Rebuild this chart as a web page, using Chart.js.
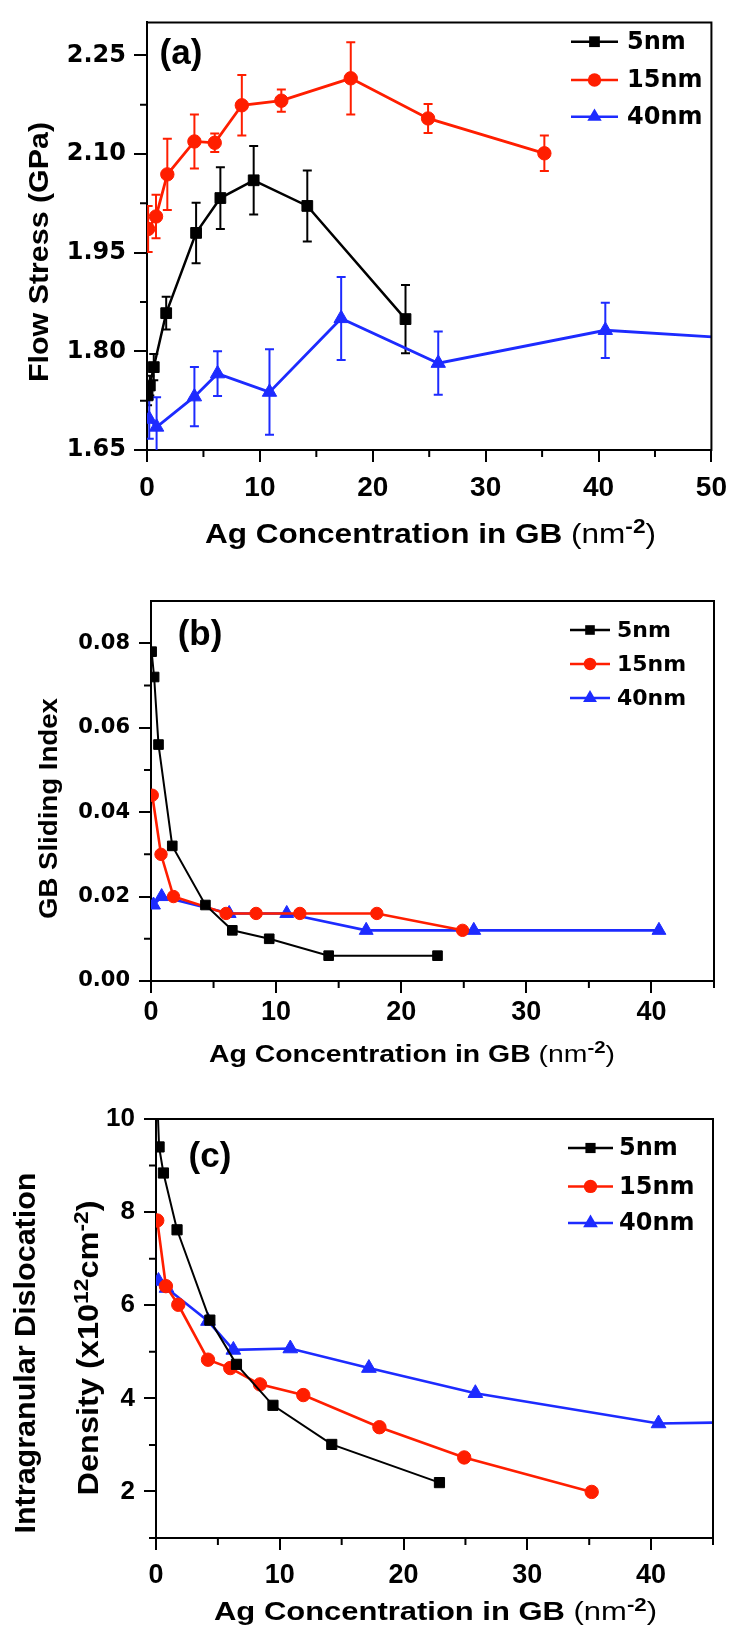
<!DOCTYPE html>
<html>
<head>
<meta charset="utf-8">
<script src="https://cdn.jsdelivr.net/npm/chart.js@4.4.1/dist/chart.umd.min.js"></script>
<style>
  html, body { margin: 0; padding: 0; background: #fff; }
  body { width: 736px; height: 1627px; position: relative; overflow: hidden; }
  canvas { position: absolute; left: 0; }
</style>
</head>
<body>
<canvas id="panelA" width="736" height="560" style="top:0px"></canvas>
<canvas id="panelB" width="736" height="520" style="top:560px"></canvas>
<canvas id="panelC" width="736" height="547" style="top:1080px"></canvas>
<script>
// ---- series ----
const seriesNames = ['5nm', '15nm', '40nm'];

// Ag concentration in GB (nm^-2) for each grain size
const agX5  = [0.05, 0.25, 0.6, 1.7, 4.35, 6.5, 9.45, 14.2, 22.9];
const agX15 = [0.1, 0.8, 1.8, 4.2, 6.0, 8.4, 11.9, 18.05, 24.9, 35.2];
const agX40 = [0.2, 0.85, 4.2, 6.25, 10.85, 17.2, 25.8, 40.6, 52];

// (a) flow stress, GPa, with error half-widths
const stress5     = [1.733, 1.748, 1.776, 1.858, 1.980, 2.033, 2.060, 2.021, 1.849];
const stressErr5  = [0.015, 0.015, 0.020, 0.025, 0.046, 0.047, 0.052, 0.054, 0.052];
const stress15    = [1.986, 2.005, 2.069, 2.119, 2.117, 2.174, 2.181, 2.215, 2.154, 2.101];
const stressErr15 = [0.035, 0.033, 0.054, 0.041, 0.014, 0.046, 0.017, 0.055, 0.022, 0.027];
const stress40    = [1.697, 1.685, 1.731, 1.766, 1.738, 1.850, 1.782, 1.832, 1.820];
const stressErr40 = [0.030, 0.045, 0.045, 0.034, 0.065, 0.063, 0.048, 0.042, 0];

// (b) GB sliding index
const slide5  = [0.078, 0.072, 0.056, 0.032, 0.018, 0.012, 0.010, 0.006, 0.006];
const slide15 = [0.044, 0.030, 0.020, null, 0.016, 0.016, 0.016, 0.016, 0.012, null];
const slide40 = [0.018, 0.020, null, 0.016, 0.016, 0.012, 0.012, 0.012, null];

// (c) intragranular dislocation density, 10^12 cm^-2
const dens5  = [10.8, 9.40, 8.84, 7.62, 5.68, 4.73, 3.85, 3.01, 2.19];
const dens15 = [7.82, 6.41, 6.01, 4.83, 4.65, 4.30, 4.07, 3.38, 2.73, 1.99];
const dens40 = [6.52, 6.37, 5.66, 5.04, 5.07, 4.65, 4.11, 3.46, 3.51];

// ---- axis ticks ----
const xTicksA = [0, 10, 20, 30, 40, 50];      const xLabelsA = ['0', '10', '20', '30', '40', '50'];
const xMinorA = [5, 15, 25, 35, 45];
const yTicksA = [1.65, 1.80, 1.95, 2.10, 2.25]; const yLabelsA = ['1.65', '1.80', '1.95', '2.10', '2.25'];
const yMinorA = [1.725, 1.875, 2.025, 2.175];

const xTicksB = [0, 10, 20, 30, 40];          const xLabelsB = ['0', '10', '20', '30', '40'];
const xMinorB = [5, 15, 25, 35, 45];
const yTicksB = [0, 0.02, 0.04, 0.06, 0.08];  const yLabelsB = ['0.00', '0.02', '0.04', '0.06', '0.08'];
const yMinorB = [0.01, 0.03, 0.05, 0.07];

const xTicksC = [0, 10, 20, 30, 40];          const xLabelsC = ['0', '10', '20', '30', '40'];
const xMinorC = [5, 15, 25, 35, 45];
const yTicksC = [2, 4, 6, 8, 10];             const yLabelsC = ['2', '4', '6', '8', '10'];
const yMinorC = [1, 3, 5, 7, 9];

// ---- styling ----
const ARIAL = "'Liberation Sans', Arial, Helvetica, sans-serif";
const DEJAVU = "'DejaVu Sans', Verdana, sans-serif";
const BLACK = '#000000', RED = '#ff1e00', BLUE = '#1d2bff';
const colors = [BLACK, RED, BLUE];
const styles = ['rect', 'circle', 'triangle'];

function pts(xs, ys) {
  return xs.map((x, i) => ({ x: x, y: ys[i] }));
}

function marker(ctx, style, r, x, y) {
  ctx.beginPath();
  if (style === 'rect') {
    const s = r * Math.SQRT1_2;
    ctx.rect(x - s, y - s, 2 * s, 2 * s);
  } else if (style === 'circle') {
    ctx.arc(x, y, r, 0, Math.PI * 2);
  } else {
    ctx.moveTo(x, y - r);
    ctx.lineTo(x + r * 0.866, y + r * 0.5);
    ctx.lineTo(x - r * 0.866, y + r * 0.5);
    ctx.closePath();
  }
  ctx.fill();
}

// text made of runs (bold/regular/superscript), centred on (cx, cy) at cap height,
// optionally rotated to read bottom-to-top, stretched to a given length
function richText(ctx, runs, cx, cy, length, rotated) {
  let w = 0;
  runs.forEach(r => {
    ctx.font = `${r.weight} ${r.size}px ${ARIAL}`;
    r.w = ctx.measureText(r.t).width;
    w += r.w;
  });
  const sx = length ? length / w : 1;
  const base = runs[0].size * 0.358;
  ctx.save();
  ctx.translate(cx, cy);
  if (rotated) ctx.rotate(-Math.PI / 2);
  ctx.scale(sx, 1);
  ctx.fillStyle = '#000';
  ctx.textAlign = 'left';
  ctx.textBaseline = 'alphabetic';
  let x = -w / 2;
  runs.forEach(r => {
    ctx.font = `${r.weight} ${r.size}px ${ARIAL}`;
    ctx.fillText(r.t, x, base - (r.rise || 0));
    x += r.w;
  });
  ctx.restore();
}

function concTitle(size) {
  return [
    { t: 'Ag Concentration in GB ', weight: 'bold', size: size },
    { t: '(nm', weight: 'normal', size: size },
    { t: '-2', weight: 'bold', size: size * 0.72, rise: size * 0.36 },
    { t: ')', weight: 'normal', size: size }
  ];
}

const decor = {
  id: 'decor',
  beforeDatasetsDraw(chart, args, o) {
    const ctx = chart.ctx, a = chart.chartArea;
    const xs = chart.scales.x, ys = chart.scales.y;
    ctx.save();
    ctx.beginPath();
    ctx.rect(a.left, a.top, a.right - a.left, a.bottom - a.top);
    ctx.clip();
    chart.data.datasets.forEach(ds => {
      if (!ds.errors) return;
      ctx.strokeStyle = ds.borderColor;
      ctx.lineWidth = 2;
      ds.data.forEach((p, i) => {
        const e = ds.errors[i];
        if (!e || p.y == null) return;
        const px = xs.getPixelForValue(p.x);
        const y1 = ys.getPixelForValue(p.y + e), y2 = ys.getPixelForValue(p.y - e);
        ctx.beginPath();
        ctx.moveTo(px, y1); ctx.lineTo(px, y2);
        ctx.moveTo(px - 4.5, y1); ctx.lineTo(px + 4.5, y1);
        ctx.moveTo(px - 4.5, y2); ctx.lineTo(px + 4.5, y2);
        ctx.stroke();
      });
    });
    ctx.restore();
  },
  afterDraw(chart, args, o) {
    const ctx = chart.ctx, a = chart.chartArea;
    const xs = chart.scales.x, ys = chart.scales.y;
    const off = o.top;
    ctx.save();
    ctx.strokeStyle = '#000';
    ctx.lineWidth = 2;
    // top and right edges of the frame
    ctx.beginPath();
    ctx.moveTo(a.left - 1, a.top);
    ctx.lineTo(a.right, a.top);
    ctx.lineTo(a.right, a.bottom + 1);
    ctx.stroke();
    // minor ticks
    ctx.beginPath();
    o.xMinor.forEach(v => {
      const px = xs.getPixelForValue(v);
      ctx.moveTo(px, a.bottom); ctx.lineTo(px, a.bottom + 7);
    });
    o.yMinor.forEach(v => {
      const py = ys.getPixelForValue(v);
      ctx.moveTo(a.left - 7, py); ctx.lineTo(a.left, py);
    });
    ctx.stroke();

    // panel letter
    ctx.fillStyle = '#000';
    ctx.font = `bold ${o.letter.size}px ${ARIAL}`;
    ctx.textAlign = 'center';
    ctx.textBaseline = 'alphabetic';
    ctx.fillText(o.letter.t, o.letter.x, o.letter.y - off);

    // legend
    const L = o.legend;
    chart.data.datasets.forEach((ds, i) => {
      const y = L.rows[i] - off;
      ctx.strokeStyle = ds.borderColor;
      ctx.fillStyle = ds.borderColor;
      ctx.lineWidth = 2.5;
      ctx.beginPath();
      ctx.moveTo(L.x1, y); ctx.lineTo(L.x2, y);
      ctx.stroke();
      marker(ctx, ds.pointStyle, ds.pointRadius, (L.x1 + L.x2) / 2, y);
      ctx.fillStyle = '#000';
      ctx.font = `bold ${L.size}px ${DEJAVU}`;
      ctx.textAlign = 'left';
      ctx.textBaseline = 'middle';
      ctx.fillText(ds.label, L.tx, y + 1);
    });

    // axis titles
    const xt = o.xTitle;
    richText(ctx, concTitle(xt.size), xt.cx, xt.cy - off, xt.len, false);
    o.yTitles.forEach(t => richText(ctx, t.runs, t.cx, t.cy - off, t.len, true));
    ctx.restore();
  }
};

function makePanel(id, p) {
  const H = p.height;
  const datasets = p.series.map((s, i) => ({
    label: seriesNames[i],
    data: pts(s.x, s.y),
    errors: s.err || null,
    borderColor: colors[i],
    backgroundColor: colors[i],
    pointBackgroundColor: colors[i],
    pointBorderColor: colors[i],
    pointBorderWidth: 1,
    pointStyle: styles[i],
    pointRadius: p.radii[i],
    borderWidth: p.widths[i],
    tension: 0,
    spanGaps: true,
    fill: false
  }));
  return new Chart(document.getElementById(id), {
    type: 'line',
    data: { datasets: datasets },
    options: {
      responsive: false,
      animation: false,
      devicePixelRatio: 1,
      events: [],
      layout: { padding: { top: p.frame.t - p.top, right: 736 - p.frame.r, left: 0, bottom: 0 } },
      plugins: {
        legend: { display: false },
        tooltip: { enabled: false },
        decor: {
          top: p.top,
          xMinor: p.xMinor, yMinor: p.yMinor,
          letter: p.letter, legend: p.legend,
          xTitle: p.xTitle, yTitles: p.yTitles
        }
      },
      scales: {
        x: {
          type: 'linear',
          min: p.xMin, max: p.xMax,
          afterBuildTicks: s => { s.ticks = p.xTicks.map(v => ({ value: v })); },
          afterFit: s => { s.height = H - (p.frame.b - p.top); },
          ticks: {
            autoSkip: false, maxRotation: 0, color: '#000',
            padding: p.xTickPad,
            font: { family: ARIAL, size: p.xTickSize, weight: 'bold' },
            callback: (v, i) => p.xLabels[i]
          },
          grid: { drawOnChartArea: false, color: '#000', lineWidth: 2, tickLength: 12 },
          border: { color: '#000', width: 2 }
        },
        y: {
          type: 'linear',
          min: p.yMin, max: p.yMax,
          afterBuildTicks: s => { s.ticks = p.yTicks.map(v => ({ value: v })); },
          afterFit: s => { s.width = p.frame.l; },
          ticks: {
            autoSkip: false, color: '#000',
            padding: p.yTickPad,
            font: { family: p.yTickFamily, size: p.yTickSize, weight: 'bold' },
            callback: (v, i) => p.yLabels[i]
          },
          grid: { drawOnChartArea: false, color: '#000', lineWidth: 2, tickLength: p.yTickLen },
          border: { color: '#000', width: 2 }
        }
      }
    },
    plugins: [decor]
  });
}

// (a) flow stress
makePanel('panelA', {
  top: 0, height: 560,
  frame: { l: 147, r: 713, t: 14, b: 450 },
  xMin: 0, xMax: 50, yMin: 1.65, yMax: 2.30,
  xTicks: xTicksA, xLabels: xLabelsA, xMinor: xMinorA,
  yTicks: yTicksA, yLabels: yLabelsA, yMinor: yMinorA,
  xTickSize: 28, xTickPad: 9,
  yTickFamily: DEJAVU, yTickSize: 24, yTickPad: 8, yTickLen: 13,
  radii: [7.6, 6.7, 8.3], widths: [2.5, 2.8, 2.8],
  series: [
    { x: agX5, y: stress5, err: stressErr5 },
    { x: agX15, y: stress15, err: stressErr15 },
    { x: agX40, y: stress40, err: stressErr40 }
  ],
  letter: { t: '(a)', size: 35, x: 181, y: 64 },
  legend: { x1: 571, x2: 618, tx: 627, size: 24, rows: [41.7, 80, 116.7] },
  xTitle: { size: 28, cx: 430.5, cy: 533, len: 451 },
  yTitles: [
    { runs: [{ t: 'Flow Stress (GPa)', weight: 'bold', size: 28 }], cx: 38, cy: 252, len: 260 }
  ]
});

// (b) GB sliding index
makePanel('panelB', {
  top: 560, height: 520,
  frame: { l: 151, r: 714, t: 601, b: 981 },
  xMin: 0, xMax: 45, yMin: 0, yMax: 0.09,
  xTicks: xTicksB, xLabels: xLabelsB, xMinor: xMinorB,
  yTicks: yTicksB, yLabels: yLabelsB, yMinor: yMinorB,
  xTickSize: 27, xTickPad: 3,
  yTickFamily: DEJAVU, yTickSize: 21, yTickPad: 9, yTickLen: 12,
  radii: [6.8, 6.2, 8], widths: [2, 2.6, 2.6],
  series: [
    { x: agX5, y: slide5 },
    { x: agX15, y: slide15 },
    { x: agX40, y: slide40 }
  ],
  letter: { t: '(b)', size: 35, x: 200, y: 645 },
  legend: { x1: 570, x2: 610, tx: 617, size: 22, rows: [630, 664, 698] },
  xTitle: { size: 24, cx: 412, cy: 1053, len: 406 },
  yTitles: [
    { runs: [{ t: 'GB Sliding Index', weight: 'bold', size: 26 }], cx: 48, cy: 808.6, len: 221 }
  ]
});

// (c) intragranular dislocation density
makePanel('panelC', {
  top: 1080, height: 547,
  frame: { l: 156, r: 713, t: 1119, b: 1538 },
  xMin: 0, xMax: 45, yMin: 1, yMax: 10,
  xTicks: xTicksC, xLabels: xLabelsC, xMinor: xMinorC,
  yTicks: yTicksC, yLabels: yLabelsC, yMinor: yMinorC,
  xTickSize: 27, xTickPad: 9,
  yTickFamily: ARIAL, yTickSize: 26, yTickPad: 9, yTickLen: 12,
  radii: [7.2, 6.7, 8.5], widths: [2, 2.6, 2.6],
  series: [
    { x: agX5, y: dens5 },
    { x: agX15, y: dens15 },
    { x: agX40, y: dens40 }
  ],
  letter: { t: '(c)', size: 35, x: 210, y: 1167 },
  legend: { x1: 568, x2: 613, tx: 619, size: 24, rows: [1148, 1186.4, 1223] },
  xTitle: { size: 26, cx: 435.5, cy: 1611, len: 443 },
  yTitles: [
    { runs: [{ t: 'Intragranular Dislocation', weight: 'bold', size: 30 }], cx: 24.5, cy: 1353, len: 361 },
    { runs: [
        { t: 'Density (x10', weight: 'bold', size: 30 },
        { t: '12', weight: 'bold', size: 21, rise: 10 },
        { t: 'cm', weight: 'bold', size: 30 },
        { t: '-2', weight: 'bold', size: 21, rise: 10 },
        { t: ')', weight: 'bold', size: 30 }
      ], cx: 87, cy: 1348, len: 295 }
  ]
});
</script>
</body>
</html>
